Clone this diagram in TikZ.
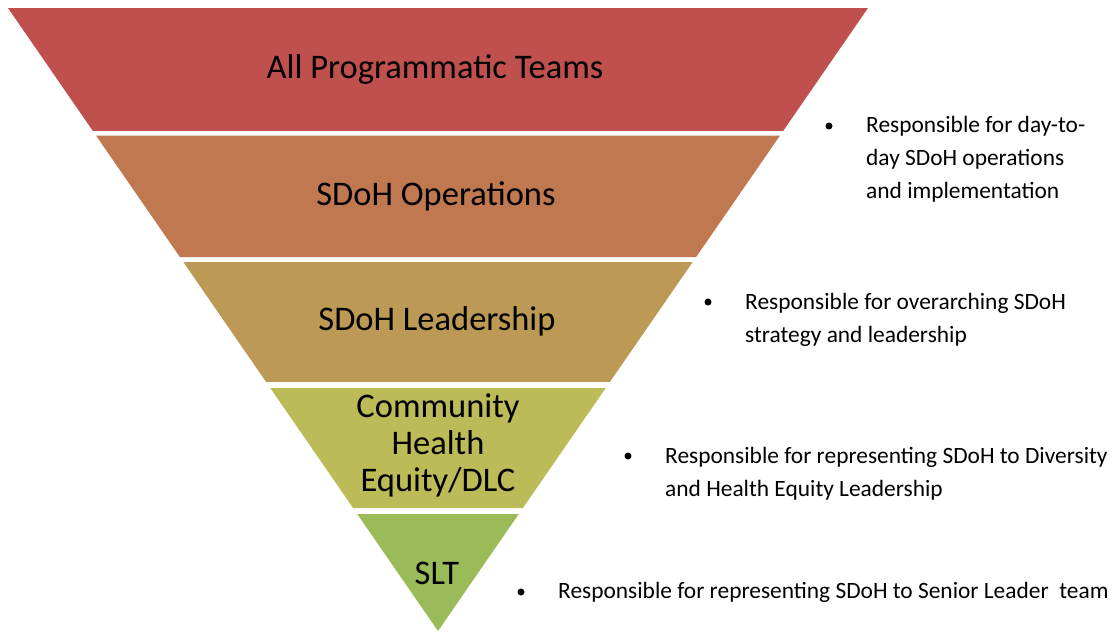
\documentclass[tikz,border=0pt]{standalone}
\usepackage{fontspec}
\setmainfont{Carlito}
\usetikzlibrary{calc,positioning}

\definecolor{tierA}{HTML}{C0504D}
\definecolor{tierB}{HTML}{BF7850}
\definecolor{tierC}{HTML}{BC9A55}
\definecolor{tierD}{HTML}{BBBB57}
\definecolor{tierE}{HTML}{9BBB59}

\tikzset{
  tierlabel/.style={align=center,font=\fontsize{34.5}{37}\selectfont,inner sep=0pt},
  notetext/.style={align=left,anchor=west,inner sep=0pt,font=\fontsize{23.4}{33}\selectfont},
  dot/.style={circle,fill=black,inner sep=0pt,minimum size=7pt}
}

\begin{document}
\begin{tikzpicture}[x=1pt,y=-1pt]
\useasboundingbox (0,0) rectangle (1112,633);
\coordinate (L) at (8,8);
\coordinate (R) at (868,8);
\coordinate (A) at (438,631);

% bands of the funnel, top to bottom
\foreach \c/\s/\e in {tierA/0/0.1974,tierB/0.2047/0.3997,tierC/0.4077/0.6003,
                      tierD/0.6100/0.8026,tierE/0.8122/1}
  \fill[\c] ($(L)!\s!(A)$) -- ($(R)!\s!(A)$) -- ($(R)!\e!(A)$) -- ($(L)!\e!(A)$) -- cycle;

\node (t1) at (435,69) [tierlabel] {All Programmatic Teams};
\node (t2) at (436,196) [tierlabel] {SDoH Operations};
\node (t3) at (437,321) [tierlabel] {SDoH Leadership};
\node (t4) at (438,445) [tierlabel] {Community\\Health\\Equity/DLC};
\node (t5) at (437,573) [tierlabel] {SLT};

\node (d1) at (829,126) [dot] {};
\node (d2) at (708,302) [dot] {};
\node (d3) at (628,456) [dot] {};
\node (d4) at (521,592) [dot] {};

\node (n1) at (866,159) [notetext] {Responsible for day-to-\\day SDoH operations\\and implementation};
\node (n2) at (745,320) [notetext] {Responsible for overarching SDoH\\strategy and leadership};
\node (n3) at (665,474) [notetext] {Responsible for representing SDoH to Diversity\\and Health Equity Leadership};
\node (n4) at (558,592) [notetext] {Responsible for representing SDoH to Senior Leader\ \ team};

\end{tikzpicture}
\end{document}
